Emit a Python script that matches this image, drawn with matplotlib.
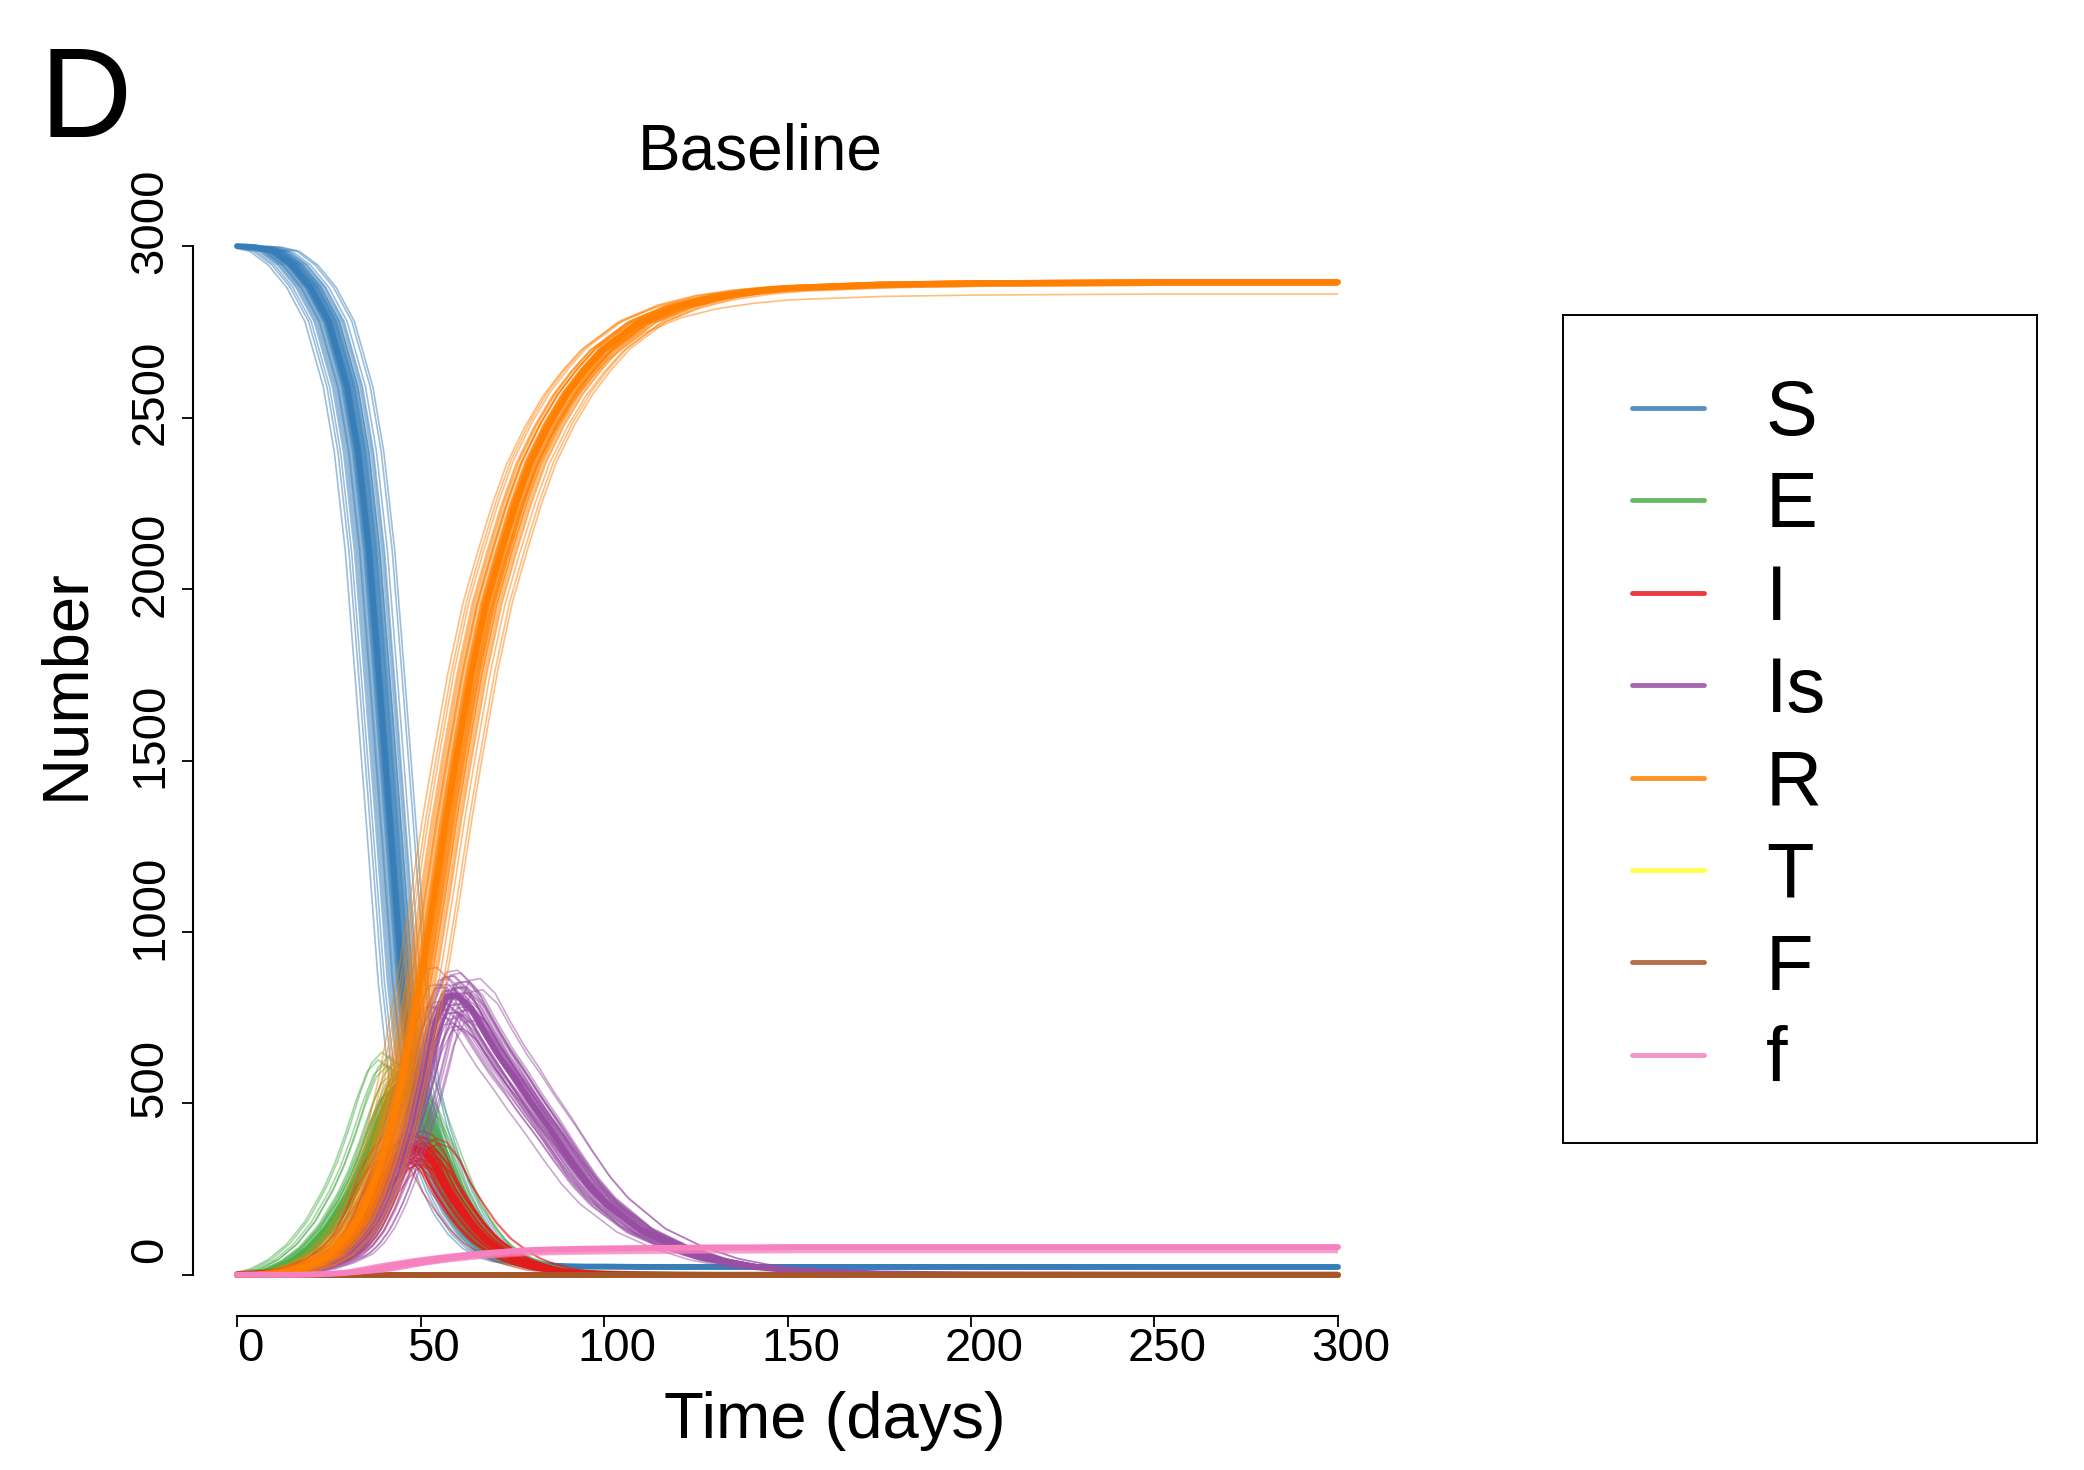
import numpy as np
import matplotlib
matplotlib.use("Agg")
import matplotlib.pyplot as plt
from matplotlib.lines import Line2D
from matplotlib.patches import Rectangle
from matplotlib.transforms import ScaledTranslation
from matplotlib import font_manager

# ---------------------------------------------------------------------------
# Ensemble of stochastic SEIR-type runs, baseline scenario
# ---------------------------------------------------------------------------
days = [0, 5, 10, 15, 20, 25, 30, 33, 36, 39, 42, 45, 48, 51, 54, 57, 60, 64,
        68, 72, 76, 80, 85, 90, 95, 100, 110, 120, 130, 140, 150, 175, 200,
        250, 300]

# central trajectory of each compartment (individuals)
S_mean = [3000, 2997, 2985, 2945, 2880, 2780, 2590, 2400, 2110, 1700, 1280,
          850, 560, 430, 330, 245, 180, 118, 77, 52, 39, 32, 27, 25, 24, 24,
          23, 23, 23, 23, 23, 23, 23, 23, 23]
E_mean = [0, 4, 15, 40, 80, 140, 225, 290, 370, 460, 535, 565, 540, 460, 380,
          300, 225, 150, 95, 62, 42, 28, 17, 10, 6, 4, 2, 1, 0, 0, 0, 0, 0, 0, 0]
I_mean = [2, 4, 7, 13, 25, 45, 85, 125, 190, 270, 320, 355, 372, 360, 320,
          255, 205, 145, 100, 70, 45, 30, 16, 9, 5, 3, 1, 0, 0, 0, 0, 0, 0, 0, 0]
Is_mean = [0, 1, 3, 8, 18, 35, 60, 90, 135, 200, 280, 380, 480, 600, 735, 810,
           815, 775, 700, 630, 570, 505, 430, 350, 275, 215, 130, 80, 45, 25,
           14, 4, 1, 0, 0]
R_mean = [0, 1, 4, 12, 30, 60, 115, 160, 230, 320, 430, 570, 740, 920, 1120,
          1330, 1520, 1760, 1960, 2110, 2250, 2370, 2480, 2570, 2640, 2700,
          2780, 2825, 2852, 2868, 2878, 2888, 2892, 2895, 2895]
T_mean = [0] * 35
F_mean = [0] * 35
f_mean = [0, 0, 0, 0, 1, 3, 6, 9, 13, 19, 25, 31, 36, 41, 46, 50, 54, 59, 63,
          66, 70, 72, 74, 75, 76, 77, 78, 79, 80, 80, 81, 81, 81, 81, 81]

# per-run timing offset of the epidemic (days)
run_shift = [-5.5, -4.0, -3.2, -2.8, -2.1, -1.7, -1.3, -1.0, -0.7, -0.4,
             -0.2, 0.0, 0.2, 0.4, 0.6, 0.9, 1.1, 1.4, 1.7, 2.0,
             2.4, 2.9, 3.5, 4.2, 5.0, 6.3, -3.6, -2.4, -1.5, -0.9,
             -0.5, 0.1, 0.5, 0.8, 1.2, 1.6, 2.2, 3.0, -6.5, 7.0,
             -4.8, -2.6, -1.1, 0.3, 1.9, 2.7, 3.9, -0.1]
# per-run size of each compartment relative to the central trajectory
E_scale = [1.15, 1.08, 0.95, 1.04, 0.90, 1.10, 0.97, 1.02, 0.88, 1.06,
           0.99, 1.00, 0.93, 1.05, 0.96, 1.12, 0.91, 1.03, 0.98, 0.86,
           1.07, 0.94, 1.01, 0.89, 1.09, 0.92, 1.13, 0.97, 1.04, 0.95,
           1.00, 0.87, 1.06, 0.99, 0.93, 1.02, 0.90, 1.08, 1.11, 0.85,
           1.09, 0.96, 1.03, 0.92, 1.05, 0.98, 0.90, 1.01]
I_scale = [1.12, 0.94, 1.05, 0.90, 1.08, 0.97, 1.02, 0.88, 1.10, 0.99,
           1.04, 1.00, 0.92, 1.06, 0.95, 0.86, 1.09, 0.98, 1.03, 0.91,
           1.13, 0.96, 1.01, 0.93, 0.89, 1.07, 0.97, 1.05, 0.94, 1.02,
           0.99, 1.11, 0.90, 1.04, 0.96, 0.87, 1.00, 1.08, 0.95, 1.03,
           1.06, 0.93, 1.10, 0.97, 0.91, 1.04, 0.99, 1.02]
Is_scale = [1.10, 0.96, 1.03, 0.92, 1.06, 0.98, 1.01, 0.90, 1.07, 0.99,
            1.02, 1.00, 0.94, 1.04, 0.97, 0.89, 1.08, 0.99, 1.03, 0.93,
            1.05, 0.96, 1.01, 0.95, 0.91, 1.06, 0.98, 1.04, 0.95, 1.02,
            1.00, 1.09, 0.92, 1.03, 0.97, 0.88, 1.01, 1.05, 0.96, 1.02,
            1.04, 0.97, 1.07, 0.94, 1.00, 1.03, 0.95, 1.01]
R_scale = [1.001, 0.998, 1.000, 0.998, 1.002, 0.999, 1.000, 0.997, 1.001, 0.999,
           1.000, 1.000, 0.998, 1.001, 0.999, 0.988, 1.002, 0.999, 1.000, 0.998,
           1.001, 0.998, 1.000, 0.999, 0.997, 1.001, 0.999, 1.000, 0.998, 1.001,
           1.000, 1.002, 0.998, 1.000, 0.999, 0.997, 1.000, 1.001, 0.998, 1.000,
           1.001, 0.999, 1.000, 1.002, 0.998, 1.000, 0.999, 1.001]
f_scale = [1.03, 0.98, 1.00, 0.82, 1.02, 0.99, 1.01, 0.90, 1.02, 1.00,
           1.01, 1.00, 0.96, 1.02, 0.99, 0.85, 1.03, 1.00, 1.01, 0.95,
           1.02, 0.99, 1.00, 0.97, 0.88, 1.02, 1.00, 1.01, 0.98, 1.02,
           1.00, 1.03, 0.93, 1.01, 0.99, 0.80, 1.00, 1.02, 0.97, 1.01,
           1.02, 0.99, 1.04, 0.98, 1.00, 1.01, 0.96, 1.03]
one_scale = [1.0] * len(run_shift)

labels = ["S", "E", "I", "Is", "R", "T", "F", "f"]
colors = ["#377EB8", "#4DAF4A", "#E41A1C", "#984EA3",
          "#FF7F00", "#FFFF33", "#A65628", "#F781BF"]
series = [S_mean, E_mean, I_mean, Is_mean, R_mean, T_mean, F_mean, f_mean]
scales = [one_scale, E_scale, I_scale, Is_scale, R_scale,
          one_scale, one_scale, f_scale]

# ---------------------------------------------------------------------------
names = {f.name for f in font_manager.fontManager.ttflist}
base_font = "Liberation Sans" if "Liberation Sans" in names else "DejaVu Sans"
narrow_font = "Liberation Sans Narrow" if "Liberation Sans Narrow" in names else base_font
plt.rcParams["font.family"] = [base_font, "DejaVu Sans"]

W, H = 2084, 1470
fig = plt.figure(figsize=(W / 100, H / 100), dpi=100)
ax = fig.add_axes([193 / W, 1 - 1316 / H, 1189 / W, 1111 / H])
ax.set_xlim(-12, 312)
ax.set_ylim(-120, 3120)

clip = Rectangle((0, -1e4), 300, 2e4, transform=ax.transData)
t = np.array(days, dtype=float)

for vals, sc, col in zip(series, scales, colors):
    v = np.array(vals, dtype=float)
    for shift, k in zip(run_shift, sc):
        x = t + shift
        y = v * k
        if shift > 0:
            x = np.concatenate([[0.0], x])
            y = np.concatenate([[y[0]], y])
        elif shift < 0:
            x = np.concatenate([x, [300.0]])
            y = np.concatenate([y, [y[-1]]])
        ln, = ax.plot(x, y, color=col, lw=1.2, alpha=0.5,
                      solid_joinstyle="round")
        ln.set_clip_path(clip)
    ax.plot(t, v, color=col, lw=4.3, solid_capstyle="round",
            solid_joinstyle="round")

# R-style detached axes
for side in ("top", "right"):
    ax.spines[side].set_visible(False)
ax.spines["left"].set_bounds(0, 3000)
ax.spines["bottom"].set_bounds(0, 300)
for side in ("left", "bottom"):
    ax.spines[side].set_linewidth(1.5)

ax.set_xticks([0, 50, 100, 150, 200, 250, 300])
ax.set_yticks([0, 500, 1000, 1500, 2000, 2500, 3000])
ax.tick_params(axis="x", length=8, width=1.3, pad=0, labelsize=34)
ax.tick_params(axis="y", length=8, width=1.3, pad=7, labelsize=34)
for lab in ax.get_yticklabels():
    lab.set_rotation(90)
    lab.set_va("center")
    lab.set_transform(lab.get_transform() +
                      ScaledTranslation(0, 25 / 100, fig.dpi_scale_trans))
for lab in ax.get_xticklabels():
    lab.set_transform(lab.get_transform() +
                      ScaledTranslation(13 / 100, 0, fig.dpi_scale_trans))

# titles and axis labels
fig.text(40 / W, 1 - 137 / H, "D", fontsize=92, family=narrow_font,
         ha="left", va="baseline")
fig.text(760 / W, 1 - 170 / H, "Baseline", fontsize=46,
         ha="center", va="baseline")
fig.text(835 / W, 1 - 1438 / H, "Time (days)", fontsize=47,
         ha="center", va="baseline")
fig.text(66 / W, 1 - 684 / H, "Number", fontsize=47, rotation=90,
         ha="center", va="center")

# legend
handles = [Line2D([], [], color=c, lw=3.5, alpha=0.85, solid_capstyle="round")
           for c in colors]
fig.legend(handles, labels, loc="upper left",
           bbox_to_anchor=(1632 / W, 1 - 378 / H), frameon=False,
           fontsize=56, handlelength=0.92, handletextpad=0.8,
           labelspacing=0.25, borderpad=0, borderaxespad=0)
fig.add_artist(Rectangle((1563 / W, 1 - 1143 / H), 474 / W, 828 / H,
                         transform=fig.transFigure, fill=False,
                         lw=1.4, ec="black"))

fig.savefig("out.png", dpi=100, facecolor="white")
